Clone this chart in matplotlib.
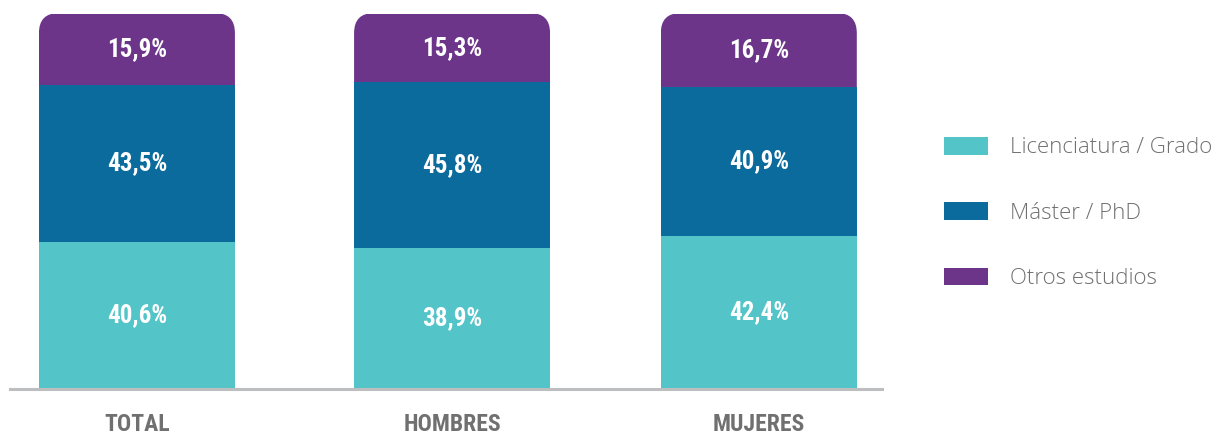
import numpy as np
import matplotlib.pyplot as plt
from matplotlib import font_manager
from matplotlib.patches import FancyBboxPatch

categories = ["TOTAL", "HOMBRES", "MUJERES"]
licenciatura = [40.6, 38.9, 42.4]
master = [43.5, 45.8, 40.9]
otros = [15.9, 15.3, 16.7]
series_names = ["Licenciatura / Grado", "Máster / PhD", "Otros estudios"]

colors = ["#53c4c8", "#0a6b9c", "#6c358a"]
text_gray = "#707070"

installed = {f.name for f in font_manager.fontManager.ttflist}
cond = "Roboto"
for name in ["Roboto Condensed", "DejaVu Sans Condensed", "Liberation Sans Narrow"]:
    if name in installed:
        cond = name
        break
light = "Open Sans" if "Open Sans" in installed else "DejaVu Sans"

W, H = 1222, 434
fig = plt.figure(figsize=[W / 100, H / 100], dpi=100)
ax = fig.add_axes([10 / W, 45 / H, 872 / W, 375 / H])

px_x = 872 / (2.395 + 0.408)
px_y = 3.62          # pixels per percentage point
ymax = 375 / px_y
cap = 14 / px_y      # rounded cap drawn above the top segment

x = np.array([0, 1.013, 1.999])
width = 0.63
bottoms = np.zeros(3)
bars = []
for i, (vals, col, name) in enumerate(zip([licenciatura, master, otros], colors, series_names)):
    extra = cap if i == 2 else 0
    heights = np.array(vals) + extra
    b = ax.bar(x, heights, width, bottom=bottoms, color=col, label=name, linewidth=0)
    bars.append(b)
    for xi, v, h, bt in zip(x, vals, heights, bottoms):
        ax.text(xi, bt + h / 2, f"{v:.1f}%".replace(".", ","), ha="center", va="center",
                color="white", fontsize=18, fontweight="bold", family=cond)
    bottoms = bottoms + np.array(vals)

# round top corners of the top segment
r = 20 / px_x
for rect in bars[-1]:
    x0, y0 = rect.get_x(), rect.get_y()
    w, h = rect.get_width(), rect.get_height()
    clip = FancyBboxPatch((x0, y0 - 10), w, h + 10,
                          boxstyle=f"round,pad=0,rounding_size={r}",
                          mutation_aspect=px_x / px_y, transform=ax.transData)
    rect.set_clip_path(clip)

ax.set_xlim(-0.408, 2.395)
ax.set_ylim(0, ymax)
ax.set_xticks(x)
ax.set_xticklabels(categories, fontsize=17, fontweight="bold", color=text_gray, family=cond)
ax.tick_params(axis="x", length=0, pad=17)
ax.set_yticks([])
for s in ["top", "right", "left"]:
    ax.spines[s].set_visible(False)
ax.spines["bottom"].set_color("#bcbec0")
ax.spines["bottom"].set_linewidth(2.2)

fig.legend(handles=bars, labels=series_names, loc="center left",
           bbox_to_anchor=(924 / W, 221 / H), frameon=False,
           prop={"family": light, "size": 16, "weight": "light"},
           labelcolor=text_gray, handlelength=2.0, handleheight=0.85,
           handletextpad=0.95, labelspacing=1.97)

fig.savefig("out.png", dpi=100)
